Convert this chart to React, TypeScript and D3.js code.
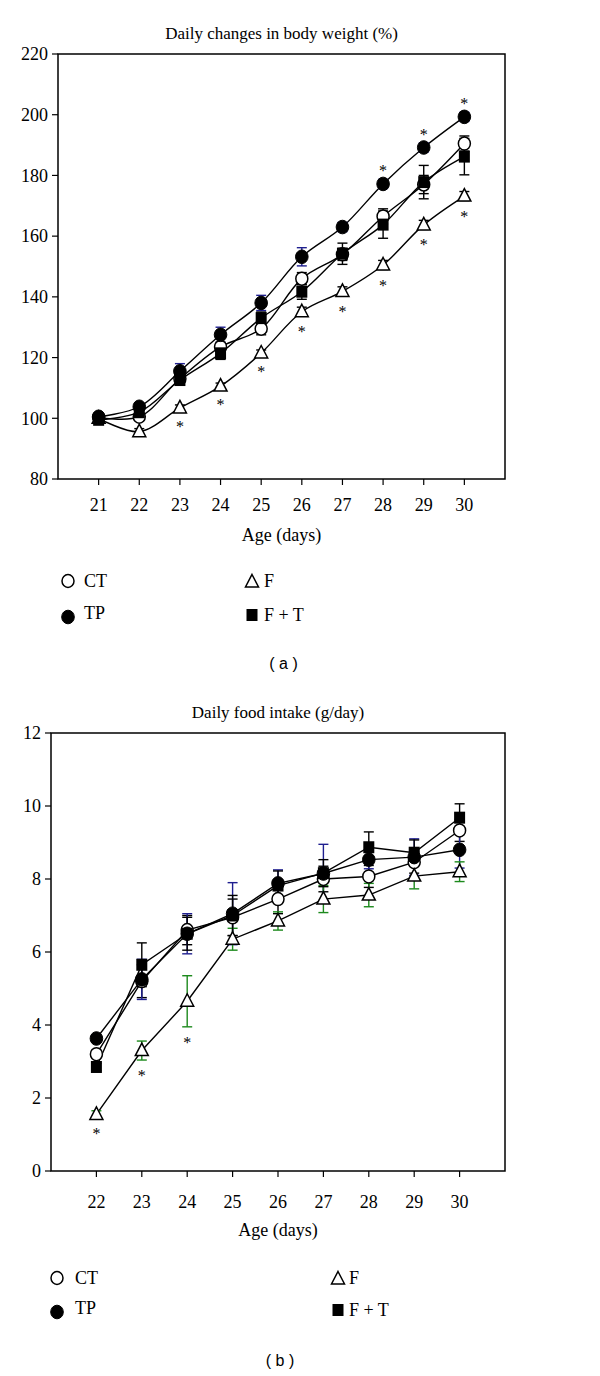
import React from "react";
import * as d3 from "d3";

// ---------- Panel (a): daily changes in body weight (%) ----------
const daysA = [21, 22, 23, 24, 25, 26, 27, 28, 29, 30];
const ctA = [100.3, 100.5, 113, 123.5, 129.5, 146, 154, 166.5, 177, 190.5];
const tpA = [100.5, 103.8, 115.5, 127.5, 138, 153.2, 163, 177.2, 189.2, 199.3];
const fA = [100, 95.6, 103.4, 110.6, 121.5, 135.1, 141.8, 150.5, 163.7, 173.2];
const ftA = [99.5, 102, 112.6, 121.4, 133, 141.7, 154.2, 163.8, 177.8, 186.2];
const ctAErr = [0.5, 1, 1, 1.5, 2, 2, 2, 2.5, 3, 2.5];
const tpAErr = [0.5, 1, 2.5, 2.5, 2.5, 3, 1.5, 1.5, 1.5, 1.5];
const fAErr = [0.5, 1, 1, 1, 1, 1.5, 1.5, 1.5, 1.5, 1.5];
const ftAErr = [1, 1.5, 1.5, 2, 2, 2.5, 3.5, 4.5, 5.5, 6];
const starsBelowFA = [23, 24, 25, 26, 27, 28, 29, 30];
const starsAboveTPA = [28, 29, 30];
const yTicksA = [80, 100, 120, 140, 160, 180, 200, 220];

// ---------- Panel (b): daily food intake (g/day) ----------
const daysB = [22, 23, 24, 25, 26, 27, 28, 29, 30];
const ctB = [3.2, 5.2, 6.6, 6.95, 7.45, 8.0, 8.07, 8.46, 9.33];
const tpB = [3.63, 5.25, 6.5, 7.05, 7.88, 8.15, 8.53, 8.6, 8.8];
const fB = [1.55, 3.3, 4.65, 6.35, 6.85, 7.45, 7.56, 8.08, 8.2];
const ftB = [2.85, 5.65, 6.5, 7.0, 7.82, 8.16, 8.87, 8.72, 9.68];
const ctBErr = [0.1, 0.45, 0.4, 0.5, 0.4, 0.35, 0.3, 0.3, 0.3];
const tpBErr = [0.1, 0.55, 0.55, 0.85, 0.37, 0.8, 0.25, 0.5, 0.5];
const fBErr = [0.1, 0.26, 0.7, 0.3, 0.25, 0.37, 0.32, 0.35, 0.27];
const ftBErr = [0.1, 0.6, 0.45, 0.55, 0.4, 0.37, 0.42, 0.35, 0.38];
const starsBelowFB = [22, 23, 24];
const yTicksB = [0, 2, 4, 6, 8, 10, 12];

const SERIF = "'Liberation Serif', 'Times New Roman', serif";
const SANS = "'Liberation Sans', Arial, sans-serif";

type Kind = "openCircle" | "filledCircle" | "triangle" | "square";

function Marker({ kind, x, y }: { kind: Kind; x: number; y: number }) {
  if (kind === "openCircle")
    return <ellipse cx={x} cy={y} rx={6} ry={6.5} fill="#fff" stroke="#000" strokeWidth={1.5} />;
  if (kind === "filledCircle")
    return <ellipse cx={x} cy={y} rx={6.3} ry={6.8} fill="#000" stroke="#000" strokeWidth={1} />;
  if (kind === "square")
    return <rect x={x - 5.5} y={y - 6} width={11} height={12} fill="#000" />;
  const p = d3.path();
  p.moveTo(x, y - 7.5);
  p.lineTo(x + 6.5, y + 5);
  p.lineTo(x - 6.5, y + 5);
  p.closePath();
  return <path d={p.toString()} fill="#fff" stroke="#000" strokeWidth={1.5} />;
}

type Series = { kind: Kind; values: number[]; err: number[]; errColor: string };

function Panel(props: {
  top: number;
  bottom: number;
  left: number;
  right: number;
  xDomain: [number, number];
  yDomain: [number, number];
  days: number[];
  yTicks: number[];
  series: Series[];
  curve: d3.CurveFactory;
  title: string;
  titleY: number;
  xLabelY: number;
  axisTitleY: number;
  starsBelowF: number[];
  starsAboveTP: number[];
  legend: { c1: number; t1: number; c2: number; t2: number; r1: number; r2: number };
  tag: string;
  tagY: number;
}) {
  const { top, bottom, left, right } = props;
  const x = d3.scaleLinear().domain(props.xDomain).range([left, right]);
  const y = d3.scaleLinear().domain(props.yDomain).range([bottom, top]);
  const line = d3
    .line<number>()
    .x((_, i) => x(props.days[i]))
    .y((v) => y(v))
    .curve(props.curve);
  const fSeries = props.series.find((s) => s.kind === "triangle")!;
  const tpSeries = props.series.find((s) => s.kind === "filledCircle")!;
  const midX = (left + right) / 2;
  const order: Kind[] = ["openCircle", "triangle", "filledCircle", "square"];
  return (
    <g>
      <text x={midX} y={props.titleY} textAnchor="middle" fontFamily={SERIF} fontSize={17}>
        {props.title}
      </text>
      <rect x={left} y={top} width={right - left} height={bottom - top} fill="none" stroke="#000" strokeWidth={1.5} />
      {props.yTicks.map((t) => (
        <g key={"y" + t}>
          <line x1={left - 6} x2={left} y1={y(t)} y2={y(t)} stroke="#000" strokeWidth={1.2} />
          <text x={left - 10} y={y(t)} dy="0.35em" textAnchor="end" fontFamily={SERIF} fontSize={18}>
            {t}
          </text>
        </g>
      ))}
      {props.days.map((d) => (
        <g key={"x" + d}>
          <line x1={x(d)} x2={x(d)} y1={bottom} y2={bottom + 6} stroke="#000" strokeWidth={1.2} />
          <text x={x(d)} y={props.xLabelY} textAnchor="middle" fontFamily={SERIF} fontSize={18}>
            {d}
          </text>
        </g>
      ))}
      <text x={midX} y={props.axisTitleY} textAnchor="middle" fontFamily={SERIF} fontSize={18}>
        Age (days)
      </text>
      {props.series.map((s, i) => (
        <path key={"l" + i} d={line(s.values) || ""} fill="none" stroke="#000" strokeWidth={1.4} />
      ))}
      {props.series.map((s, si) =>
        s.values.map((v, i) => {
          const cx = x(props.days[i]);
          const y1 = y(v + s.err[i]);
          const y2 = y(v - s.err[i]);
          return (
            <g key={"e" + si + "-" + i} stroke={s.errColor} strokeWidth={1.4}>
              <line x1={cx} x2={cx} y1={y1} y2={y2} />
              <line x1={cx - 5} x2={cx + 5} y1={y1} y2={y1} />
              <line x1={cx - 5} x2={cx + 5} y1={y2} y2={y2} />
            </g>
          );
        })
      )}
      {order.map((k) => {
        const s = props.series.find((ss) => ss.kind === k)!;
        return s.values.map((v, i) => <Marker key={k + i} kind={k} x={x(props.days[i])} y={y(v)} />);
      })}
      {props.starsBelowF.map((d) => {
        const i = props.days.indexOf(d);
        const v = fSeries.values[i];
        const center = Math.max(y(v) + 15, y(v - fSeries.err[i]) + 12);
        return (
          <text key={"sb" + d} x={x(d)} y={center + 9} textAnchor="middle" fontFamily={SERIF} fontSize={16} fill="#000">
            *
          </text>
        );
      })}
      {props.starsAboveTP.map((d) => {
        const i = props.days.indexOf(d);
        return (
          <text key={"sa" + d} x={x(d)} y={y(tpSeries.values[i]) - 8} textAnchor="middle" fontFamily={SERIF} fontSize={16} fill="#000">
            *
          </text>
        );
      })}
      <Marker kind="openCircle" x={props.legend.c1} y={props.legend.r1} />
      <text x={props.legend.t1} y={props.legend.r1} dy="0.35em" fontFamily={SERIF} fontSize={18}>CT</text>
      <Marker kind="filledCircle" x={props.legend.c1} y={props.legend.r2 + 4} />
      <text x={props.legend.t1} y={props.legend.r2} dy="0.35em" fontFamily={SERIF} fontSize={18}>TP</text>
      <Marker kind="triangle" x={props.legend.c2} y={props.legend.r1 + 1} />
      <text x={props.legend.t2} y={props.legend.r1} dy="0.35em" fontFamily={SERIF} fontSize={18}>F</text>
      <Marker kind="square" x={props.legend.c2} y={props.legend.r2 + 2} />
      <text x={props.legend.t2} y={props.legend.r2 + 2} dy="0.35em" fontFamily={SERIF} fontSize={18}>F + T</text>
      <text x={midX + 2} y={props.tagY} dy="0.35em" textAnchor="middle" fontFamily={SANS} fontSize={16}>
        ( {props.tag} )
      </text>
    </g>
  );
}

export default function App() {
  const NAVY = "#1f1f8f";
  const GREEN = "#1d8a1d";
  return (
    <svg width={600} height={1376} style={{ position: "absolute", left: 0, top: 0, background: "#fff" }}>
      <rect x={0} y={0} width={600} height={1376} fill="#fff" />
      <Panel
        top={54}
        bottom={479}
        left={58}
        right={505}
        xDomain={[20, 31]}
        yDomain={[80, 220]}
        days={daysA}
        yTicks={yTicksA}
        series={[
          { kind: "openCircle", values: ctA, err: ctAErr, errColor: "#000" },
          { kind: "filledCircle", values: tpA, err: tpAErr, errColor: NAVY },
          { kind: "triangle", values: fA, err: fAErr, errColor: "#000" },
          { kind: "square", values: ftA, err: ftAErr, errColor: "#000" },
        ]}
        curve={d3.curveCatmullRom.alpha(0.5)}
        title="Daily changes in body weight (%)"
        titleY={39}
        xLabelY={511}
        axisTitleY={541}
        starsBelowF={starsBelowFA}
        starsAboveTP={starsAboveTPA}
        legend={{ c1: 68, t1: 84, c2: 252, t2: 264, r1: 581, r2: 613 }}
        tag="a"
        tagY={663}
      />
      <Panel
        top={733}
        bottom={1171}
        left={51}
        right={505}
        xDomain={[21, 31]}
        yDomain={[0, 12]}
        days={daysB}
        yTicks={yTicksB}
        series={[
          { kind: "openCircle", values: ctB, err: ctBErr, errColor: "#000" },
          { kind: "filledCircle", values: tpB, err: tpBErr, errColor: NAVY },
          { kind: "triangle", values: fB, err: fBErr, errColor: GREEN },
          { kind: "square", values: ftB, err: ftBErr, errColor: "#000" },
        ]}
        curve={d3.curveLinear}
        title="Daily food intake (g/day)"
        titleY={718}
        xLabelY={1208}
        axisTitleY={1236}
        starsBelowF={starsBelowFB}
        starsAboveTP={[]}
        legend={{ c1: 57, t1: 75, c2: 338, t2: 349, r1: 1278, r2: 1308 }}
        tag="b"
        tagY={1360}
      />
    </svg>
  );
}
